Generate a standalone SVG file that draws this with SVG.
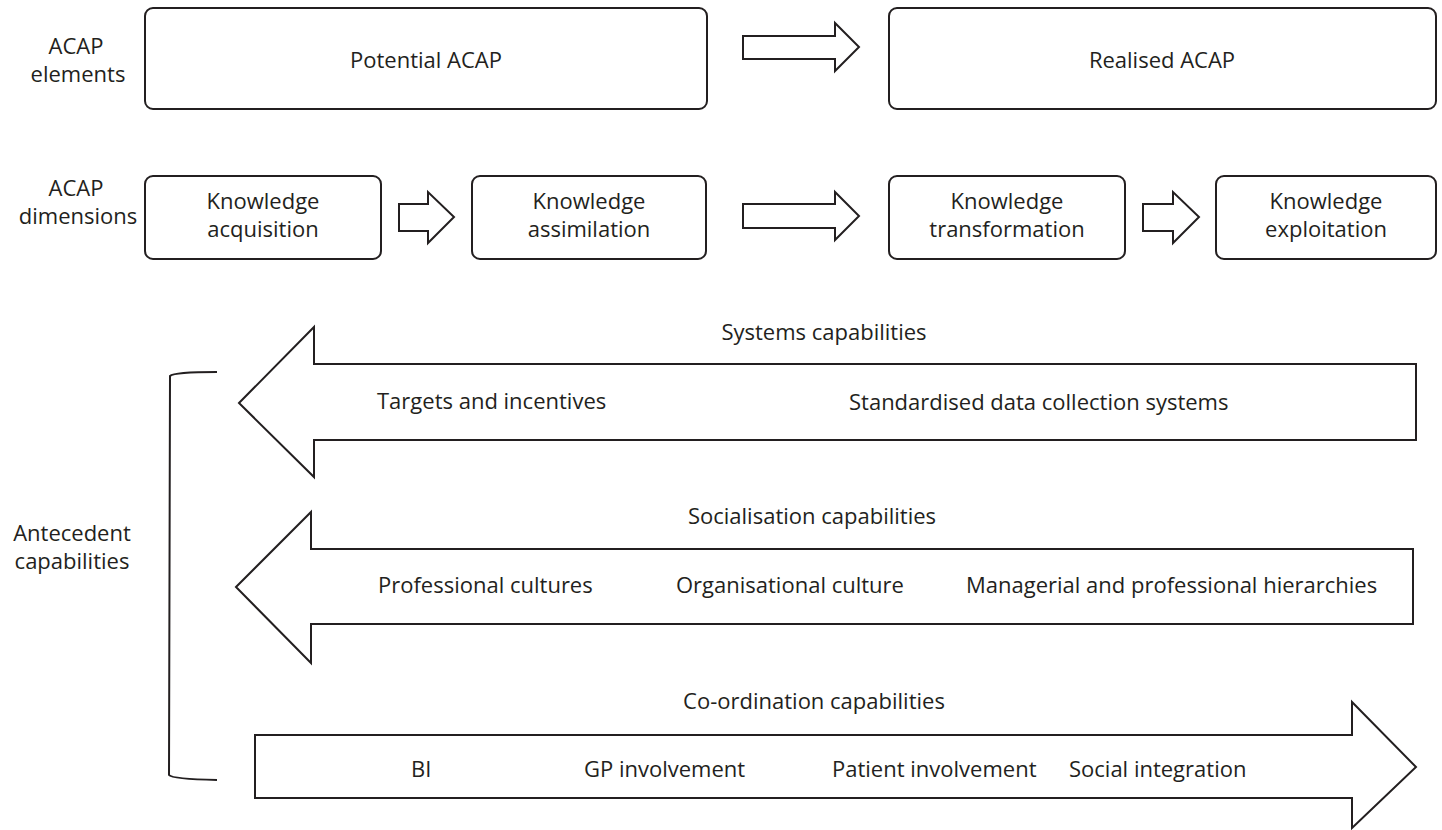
<svg xmlns="http://www.w3.org/2000/svg" width="1442" height="830" viewBox="0 0 1442 830">
  <style>
    .box { fill: #ffffff; stroke: #231f20; stroke-width: 2; }
    .blk { fill: #ffffff; stroke: #231f20; stroke-width: 2; stroke-linejoin: miter; }
    .brk { fill: none; stroke: #231f20; stroke-width: 2; }
    text { font-family: "Open Sans", "Noto Sans", "Liberation Sans", sans-serif; font-size: 22px; fill: #231f20; }
    .c { text-anchor: middle; }
  </style>
  <rect width="1442" height="830" fill="#ffffff"/>

  <!-- row labels -->
  <g id="label-elements">
    <text class="c" x="76" y="54">ACAP</text>
    <text class="c" x="78" y="82">elements</text>
  </g>
  <g id="label-dimensions">
    <text class="c" x="76" y="196">ACAP</text>
    <text class="c" x="78" y="224">dimensions</text>
  </g>
  <g id="label-antecedent">
    <text class="c" x="72" y="541">Antecedent</text>
    <text class="c" x="72" y="569">capabilities</text>
  </g>

  <!-- ACAP elements -->
  <g id="potential-acap">
    <rect class="box" x="145" y="8" width="562" height="101" rx="8"/>
    <text class="c" x="426" y="68">Potential ACAP</text>
  </g>
  <g id="realised-acap">
    <rect class="box" x="889" y="8" width="547" height="101" rx="8"/>
    <text class="c" x="1162" y="68">Realised ACAP</text>
  </g>

  <!-- ACAP dimensions -->
  <g id="knowledge-acquisition">
    <rect class="box" x="145" y="176" width="236" height="83" rx="8"/>
    <text class="c" x="263" y="209">Knowledge</text>
    <text class="c" x="263" y="237">acquisition</text>
  </g>
  <g id="knowledge-assimilation">
    <rect class="box" x="472" y="176" width="234" height="83" rx="8"/>
    <text class="c" x="589" y="209">Knowledge</text>
    <text class="c" x="589" y="237">assimilation</text>
  </g>
  <g id="knowledge-transformation">
    <rect class="box" x="889" y="176" width="236" height="83" rx="8"/>
    <text class="c" x="1007" y="209">Knowledge</text>
    <text class="c" x="1007" y="237">transformation</text>
  </g>
  <g id="knowledge-exploitation">
    <rect class="box" x="1216" y="176" width="220" height="83" rx="8"/>
    <text class="c" x="1326" y="209">Knowledge</text>
    <text class="c" x="1326" y="237">exploitation</text>
  </g>

  <!-- block arrows between boxes -->
  <g id="connectors">
    <path class="blk" d="M743,36 H835 V23 L859,47 L835,71 V59 H743 Z"/>
    <path class="blk" d="M399,204 H428 V192 L454,217 L428,243 V231 H399 Z"/>
    <path class="blk" d="M743,204 H835 V192 L859,216 L835,240 V228 H743 Z"/>
    <path class="blk" d="M1143,204 H1173 V192 L1199,217 L1173,243 V231 H1143 Z"/>
  </g>

  <!-- antecedent bracket -->
  <g id="bracket">
    <path class="brk" d="M217,372 Q174,372 170,376 L169,775 Q172,779 217,780"/>
  </g>

  <!-- capability arrows -->
  <g id="systems-capabilities">
    <text class="c" x="824" y="340">Systems capabilities</text>
    <path class="blk" d="M239,403 L314,327 V364 H1416 V440 H314 V477 Z"/>
    <text x="377" y="409">Targets and incentives</text>
    <text x="849" y="410">Standardised data collection systems</text>
  </g>
  <g id="socialisation-capabilities">
    <text class="c" x="812" y="524">Socialisation capabilities</text>
    <path class="blk" d="M236,587 L311,512 V549 H1413 V624 H311 V663 Z"/>
    <text x="378" y="593">Professional cultures</text>
    <text x="676" y="593">Organisational culture</text>
    <text x="966" y="593">Managerial and professional hierarchies</text>
  </g>
  <g id="coordination-capabilities">
    <text class="c" x="814" y="709">Co-ordination capabilities</text>
    <path class="blk" d="M255,735 H1352 V702 L1416,767 L1352,828 V798 H255 Z"/>
    <text x="411" y="777">BI</text>
    <text x="584" y="777">GP involvement</text>
    <text x="832" y="777">Patient involvement</text>
    <text x="1069" y="777">Social integration</text>
  </g>
</svg>
